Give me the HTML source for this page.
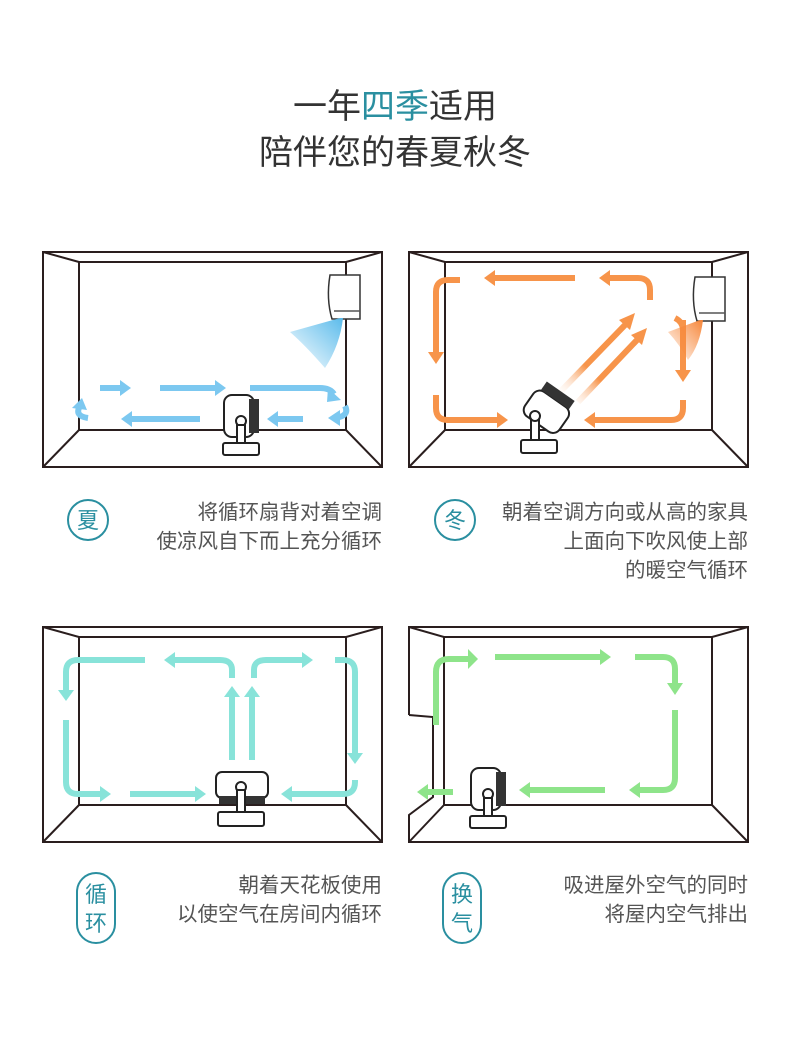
<!DOCTYPE html>
<html><head><meta charset="utf-8"><style>
html,body{margin:0;padding:0;background:#fff;}
body{width:790px;height:1055px;overflow:hidden;}
svg{display:block;font-family:"Liberation Sans","Noto Sans CJK SC",sans-serif;}
.t{fill:#555;font-size:20.5px;}
</style></head><body>
<svg width="790" height="1055" viewBox="0 0 790 1055" xmlns="http://www.w3.org/2000/svg">
<defs>
<linearGradient id="cone" x1="1" y1="0" x2="0" y2="1"><stop offset="0" stop-color="#5bbbeb"/><stop offset="1" stop-color="#5bbbeb" stop-opacity="0"/></linearGradient>
<linearGradient id="cone2" x1="1" y1="0" x2="0" y2="1"><stop offset="0" stop-color="#f7873a"/><stop offset="1" stop-color="#f7873a" stop-opacity="0"/></linearGradient>
<linearGradient id="fdiag" x1="0" y1="1" x2="1" y2="0"><stop offset="0" stop-color="#fff" stop-opacity="0"/><stop offset="0.4" stop-color="#f7944a"/><stop offset="1" stop-color="#f7944a"/></linearGradient>
<g id="fan">
<rect x="-17" y="-32" width="30" height="42" rx="8" fill="#fff" stroke="#222" stroke-width="2"/>
<rect x="8" y="-28" width="10" height="34" fill="#333"/>
<circle cx="0" cy="-6" r="5" fill="#fff" stroke="#222" stroke-width="2"/>
<rect x="-4" y="-2" width="8" height="20" fill="#fff" stroke="#222" stroke-width="2"/>
<rect x="-18" y="16" width="36" height="12" rx="2" fill="#fff" stroke="#222" stroke-width="2"/>
</g>
<g id="ac">
<path d="M0,0 h30 v44 h-28 q-6,-20 -2,-44z" fill="#fff" stroke="#333" stroke-width="1.5"/>
<path d="M4,36 h26" stroke="#555" stroke-width="1.5"/>
</g>
</defs>

<!-- title -->
<text x="395" y="118" text-anchor="middle" font-size="34" fill="#333">一年<tspan fill="#2a8fa0">四季</tspan>适用</text>
<text x="395" y="164" text-anchor="middle" font-size="34" fill="#333">陪伴您的春夏秋冬</text>

<g fill="none" stroke="#2a1e1e" stroke-width="2">
<rect x="43" y="252" width="339" height="215"/><rect x="79" y="262" width="267" height="168"/>
<path d="M43,252L79,262M382,252L346,262M43,467L79,430M382,467L346,430"/>
<rect x="409" y="252" width="339" height="215"/><rect x="445" y="262" width="267" height="168"/>
<path d="M409,252L445,262M748,252L712,262M409,467L445,430M748,467L712,430"/>
<rect x="43" y="627" width="339" height="215"/><rect x="79" y="637" width="267" height="168"/>
<path d="M43,627L79,637M382,627L346,637M43,842L79,805M382,842L346,805"/>
<path d="M409,715V627H748V842H409V815L433,797V717L409,715"/>
<rect x="444" y="637" width="268" height="168"/>
<path d="M409,627L444,637M748,627L712,637M409,842L444,805M748,842L712,805"/>
</g>

<!-- panel1 arrows blue -->
<g stroke="#7cc8f0" stroke-width="6" fill="none">
<path d="M100,388H120"/><path d="M160,388H215"/><path d="M250,388H320q10,0 14,6"/>
<path d="M200,419H132"/><path d="M303,419H278"/><path d="M88,418q-14,-2 -8,-12"/>
<path d="M345,406q5,10 -10,12"/>
</g>
<g fill="#7cc8f0">
<path d="M120,380L131,388L120,396z"/><path d="M215,380L226,388L215,396z"/><path d="M328,388L341,400L327,402z"/>
<path d="M132,411L121,419L132,427z"/><path d="M278,411L267,419L278,427z"/><path d="M72,408L82,398L87,410z"/><path d="M340,410L328,418L340,426z"/>
</g>
<use href="#ac" x="330" y="275"/>
<path d="M340,318L290,332Q305,345 325,368Q340,345 343,318z" fill="url(#cone)"/>
<use href="#fan" x="241" y="427"/>

<!-- panel2 arrows orange -->
<g stroke="#f7944a" stroke-width="6" fill="none">
<path d="M575,278H495"/><path d="M650,300V290q0,-12 -12,-12H610"/>
<path d="M460,280H448q-12,0 -12,12V352"/><path d="M436,395v13q0,12 12,12H497"/>
<path d="M683,320V370"/><path d="M683,400v8q0,12 -12,12H595"/>
<path d="M675,318q8,4 8,12" />
</g>
<path d="M560,392L625,325M578,402L637,340" stroke="url(#fdiag)" stroke-width="6"/>
<g fill="#f7944a">
<path d="M495,270L484,278L495,286z"/><path d="M610,270L599,278L610,286z"/>
<path d="M428,352L436,364L444,352z"/><path d="M497,412L508,420L497,428z"/>
<path d="M675,370L683,382L691,370z"/><path d="M595,412L584,420L595,428z"/>
<path d="M619,320L635,313L630,330z"/><path d="M631,335L647,328L642,345z"/>
</g>
<use href="#ac" x="695" y="277"/>
<path d="M700,320L668,332Q680,345 688,360Q700,345 703,320z" fill="url(#cone2)"/>
<!-- tilted fan -->
<g transform="rotate(35 545 412)">
<rect x="525" y="396" width="42" height="30" rx="8" fill="#fff" stroke="#222" stroke-width="2"/>
<rect x="529" y="386" width="34" height="10" fill="#333"/>
</g>
<rect x="531" y="418" width="8" height="24" fill="#fff" stroke="#222" stroke-width="2"/>
<circle cx="535" cy="416" r="5" fill="#fff" stroke="#222" stroke-width="2"/>
<rect x="521" y="440" width="36" height="13" rx="2" fill="#fff" stroke="#222" stroke-width="2"/>

<!-- panel3 teal -->
<g stroke="#88e3d9" stroke-width="6" fill="none">
<path d="M145,660H78q-12,0 -12,12V690"/><path d="M66,720V782q0,12 12,12H100"/><path d="M130,794H195"/>
<path d="M232,678V670q0,-10 -12,-10H175"/><path d="M254,678V670q0,-10 12,-10H302"/>
<path d="M335,660h8q12,0 12,12V753"/><path d="M355,780v2q0,12 -12,12H292"/>
<path d="M232,760V697"/><path d="M252,760V697"/>
</g>
<g fill="#88e3d9">
<path d="M58,690L66,701L74,690z"/><path d="M100,786L111,794L100,802z"/><path d="M195,786L206,794L195,802z"/>
<path d="M175,652L164,660L175,668z"/><path d="M302,652L313,660L302,668z"/>
<path d="M347,753L355,764L363,753z"/><path d="M292,786L281,794L292,802z"/>
<path d="M224,697L232,686L240,697z"/><path d="M244,697L252,686L260,697z"/>
</g>
<rect x="216" y="772" width="52" height="26" rx="6" fill="#fff" stroke="#222" stroke-width="2"/>
<rect x="219" y="796" width="46" height="8" fill="#333"/>
<circle cx="241" cy="787" r="5" fill="#fff" stroke="#222" stroke-width="2"/>
<rect x="237" y="790" width="8" height="22" fill="#fff" stroke="#222" stroke-width="2"/>
<rect x="218" y="812" width="46" height="14" rx="2" fill="#fff" stroke="#222" stroke-width="2"/>

<!-- panel4 green -->
<g stroke="#8ee48a" stroke-width="6" fill="none">
<path d="M436,725V672q0,-13 13,-13H468"/><path d="M495,657H600"/>
<path d="M635,657h28q12,0 12,12V683"/><path d="M675,710V778q0,12 -12,12H640"/>
<path d="M605,790H530"/><path d="M453,792H428"/>
</g>
<g fill="#8ee48a">
<path d="M468,649L478,659L468,669z"/><path d="M600,649L611,657L600,665z"/>
<path d="M667,683L675,695L683,683z"/><path d="M640,782L629,790L640,798z"/>
<path d="M530,782L519,790L530,798z"/><path d="M428,784L417,792L428,800z"/>
</g>
<use href="#fan" x="488" y="800"/>

<!-- captions -->
<circle cx="88" cy="520" r="20" fill="none" stroke="#2a8fa0" stroke-width="2"/>
<text x="88" y="528" text-anchor="middle" font-size="22" fill="#2a8fa0">夏</text>
<text x="382" y="519" text-anchor="end" class="t">将循环扇背对着空调</text>
<text x="382" y="548" text-anchor="end" class="t">使凉风自下而上充分循环</text>

<circle cx="455" cy="520" r="20" fill="none" stroke="#2a8fa0" stroke-width="2"/>
<text x="455" y="528" text-anchor="middle" font-size="22" fill="#2a8fa0">冬</text>
<text x="748" y="519" text-anchor="end" class="t">朝着空调方向或从高的家具</text>
<text x="748" y="548" text-anchor="end" class="t">上面向下吹风使上部</text>
<text x="748" y="577" text-anchor="end" class="t">的暖空气循环</text>

<rect x="77" y="873" width="38" height="70" rx="19" fill="none" stroke="#2a8fa0" stroke-width="2"/>
<text x="96" y="902" text-anchor="middle" font-size="22" fill="#2a8fa0">循</text>
<text x="96" y="931" text-anchor="middle" font-size="22" fill="#2a8fa0">环</text>
<text x="382" y="892" text-anchor="end" class="t">朝着天花板使用</text>
<text x="382" y="921" text-anchor="end" class="t">以使空气在房间内循环</text>

<rect x="443" y="873" width="38" height="70" rx="19" fill="none" stroke="#2a8fa0" stroke-width="2"/>
<text x="462" y="902" text-anchor="middle" font-size="22" fill="#2a8fa0">换</text>
<text x="462" y="931" text-anchor="middle" font-size="22" fill="#2a8fa0">气</text>
<text x="748" y="892" text-anchor="end" class="t">吸进屋外空气的同时</text>
<text x="748" y="921" text-anchor="end" class="t">将屋内空气排出</text>
</svg>
</body></html>
